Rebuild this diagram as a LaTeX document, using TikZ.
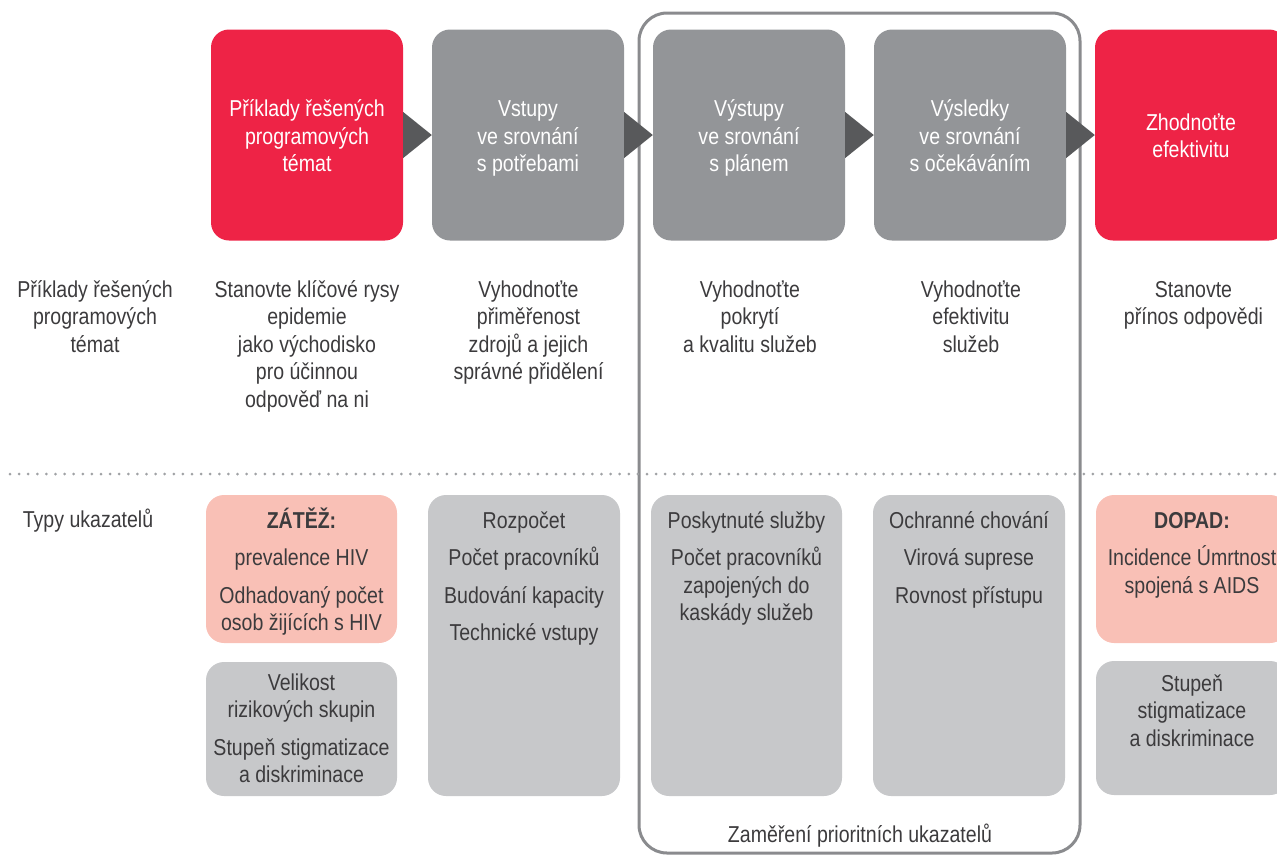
\documentclass[tikz,border=0pt]{standalone}
\usepackage{fontspec}
\setmainfont{Liberation Sans}[FakeStretch=0.85]
\usetikzlibrary{calc}
\definecolor{cred}{RGB}{238,35,70}
\definecolor{cdgray}{RGB}{147,149,152}
\definecolor{carrow}{RGB}{88,89,91}
\definecolor{clgray}{RGB}{199,200,202}
\definecolor{cpink}{RGB}{249,192,182}
\definecolor{ctext}{RGB}{60,59,61}
\definecolor{cframe}{RGB}{138,139,142}
\definecolor{cdot}{RGB}{160,162,165}
\newcommand\myfont{\fontsize{23}{27.5}\selectfont}
\newcommand\myst{\rule{0pt}{23pt}}
\newcommand\myend{\rule[-5pt]{0pt}{5pt}}
\begin{document}
\begin{tikzpicture}[x=1pt,y=-1pt,
  topbox/.style={rectangle, rounded corners=18pt, minimum width=192pt, minimum height=211pt,
    inner sep=0pt, text=white, align=center, font=\myfont},
  lowbox/.style={rectangle, rounded corners=18pt, inner sep=0pt},
  txt/.style={anchor=north, inner sep=0pt, align=center, text=ctext, font=\myfont},
  tri/.style={fill=carrow},
  focusframe/.style={draw=cframe, line width=3pt, rounded corners=28pt, rectangle,
    minimum width=441pt, minimum height=840pt, inner sep=0pt}
]
\useasboundingbox (0,0) rectangle (1277,855);
\clip (0,0) rectangle (1277,855);

% focus frame
\node[focusframe] (focus) at (859.5,433) {};

% top row
\node[topbox, fill=cred]   (t1) at (307,135) {\myst Příklady řešených\\programových\\témat\myend};
\node[topbox, fill=cdgray] (t2) at (528,135) {\myst Vstupy\\ve srovnání\\s potřebami\myend};
\node[topbox, fill=cdgray] (t3) at (749,135) {\myst Výstupy\\ve srovnání\\s plánem\myend};
\node[topbox, fill=cdgray] (t4) at (970,135) {\myst Výsledky\\ve srovnání\\s očekáváním\myend};
\node[topbox, fill=cred]   (t5) at (1191,135) {\myst Zhodnoťte\\efektivitu\myend};

% arrows
\fill[tri] ([yshift=23pt]t1.east) -- (t2.west) -- ([yshift=-23pt]t1.east) -- cycle;
\fill[tri] ([yshift=23pt]t2.east) -- (t3.west) -- ([yshift=-23pt]t2.east) -- cycle;
\fill[tri] ([yshift=23pt]t3.east) -- (t4.west) -- ([yshift=-23pt]t3.east) -- cycle;
\fill[tri] ([yshift=23pt]t4.east) -- (t5.west) -- ([yshift=-23pt]t4.east) -- cycle;

% middle row
\node[txt] (m0) at (95,274)   {\myst Příklady řešených\\programových\\témat};
\node[txt] (m1) at (307,274)  {\myst Stanovte klíčové rysy\\epidemie\\jako východisko\\pro účinnou\\odpověď na ni};
\node[txt] (m2) at (528.5,274){\myst Vyhodnoťte\\přiměřenost\\zdrojů a jejich\\správné přidělení};
\node[txt] (m3) at (750,274)  {\myst Vyhodnoťte\\pokrytí\\a kvalitu služeb};
\node[txt] (m4) at (971,274)  {\myst Vyhodnoťte\\efektivitu\\služeb};
\node[txt] (m5) at (1193.5,274){\myst Stanovte\\přínos odpovědi};

% dotted separator
\coordinate (dl) at (10,474);
\coordinate (dr) at (1277,474);
\draw[cdot, line width=3pt, line cap=round, dash pattern=on 0pt off 9.1pt] (dl) -- (dr);

% bottom row
\node[txt] (l2) at (88,504) {\myst Typy ukazatelů};

\node[lowbox, fill=cpink,  minimum width=191pt, minimum height=148pt] (b1a) at (301.5,569) {};
\node[lowbox, fill=clgray, minimum width=191pt, minimum height=134pt] (b1b) at (301.5,729) {};
\node[lowbox, fill=clgray, minimum width=192pt, minimum height=301pt] (b2)  at (524,645.5) {};
\node[lowbox, fill=clgray, minimum width=191pt, minimum height=301pt] (b3)  at (746.5,645.5) {};
\node[lowbox, fill=clgray, minimum width=192pt, minimum height=301pt] (b4)  at (969,645.5) {};
\node[lowbox, fill=cpink,  minimum width=192pt, minimum height=148pt] (b5a) at (1192,569) {};
\node[lowbox, fill=clgray, minimum width=192pt, minimum height=134pt] (b5b) at (1192,728) {};

\node[txt] (x1a) at (301.5,505) {\myst\textbf{ZÁTĚŽ:}\\[10pt]prevalence HIV\\[10pt]Odhadovaný počet\\osob žijících s HIV};
\node[txt] (x1b) at (301.5,667) {\myst Velikost\\rizikových skupin\\[10pt]Stupeň stigmatizace\\a diskriminace};
\node[txt] (x2)  at (524,505)   {\myst Rozpočet\\[10pt]Počet pracovníků\\[10pt]Budování kapacity\\[10pt]Technické vstupy};
\node[txt] (x3)  at (746.5,505) {\myst Poskytnuté služby\\[10pt]Počet pracovníků\\zapojených do\\kaskády služeb};
\node[txt] (x4)  at (969,505)   {\myst Ochranné chování\\[10pt]Virová suprese\\[10pt]Rovnost přístupu};
\node[txt] (x5a) at (1192,505)  {\myst\textbf{DOPAD:}\\[10pt]Incidence Úmrtnost\\spojená s AIDS};
\node[txt] (x5b) at (1192,668)  {\myst Stupeň\\stigmatizace\\a diskriminace};

\node[txt] (cap) at (860,819) {\myst Zaměření prioritních ukazatelů};
\end{tikzpicture}
\end{document}
